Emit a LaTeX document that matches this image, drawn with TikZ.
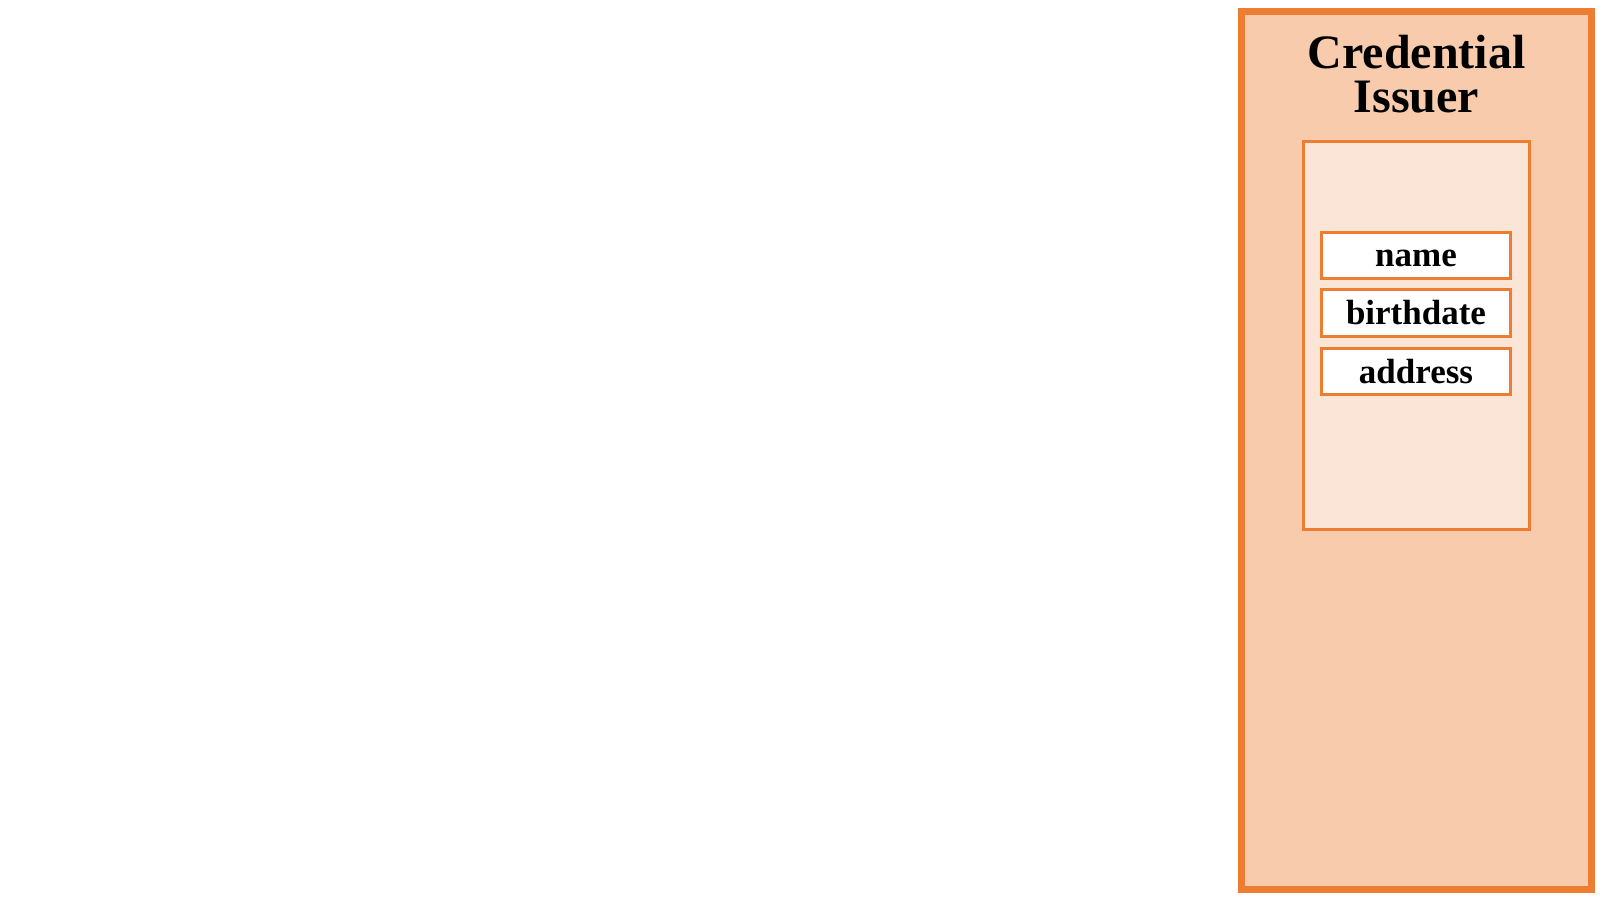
\documentclass[tikz,border=0pt]{standalone}
\usepackage{fontspec}
\setmainfont{Liberation Serif}
\definecolor{orangeline}{HTML}{ED7D31}
\definecolor{outerfill}{HTML}{F7CBAC}
\definecolor{innerfill}{HTML}{FBE5D6}
\begin{document}
\begin{tikzpicture}[x=1pt,y=-1pt,
  outerbox/.style={draw=orangeline,fill=outerfill,line width=7pt},
  innerbox/.style={draw=orangeline,fill=innerfill,line width=3pt},
  fieldbox/.style={draw=orangeline,fill=white,line width=3pt},
  fieldtext/.style={anchor=base,inner sep=0pt,font=\fontsize{35}{40}\selectfont\bfseries},
  titletext/.style={anchor=base,inner sep=0pt,align=center,font=\fontsize{48}{44}\selectfont\bfseries}]
\useasboundingbox (0,0) rectangle (1600,900);
\fill[white] (0,0) rectangle (1600,900);
\draw[outerbox] (1241.5,11.5) rectangle (1591.5,889.5);
\node[titletext] (title) at (1416.5,112) {Credential\\Issuer};
\draw[innerbox] (1303.5,141.5) rectangle (1529.5,529);
\draw[fieldbox] (1321.5,232) rectangle (1510.5,278);
\draw[fieldbox] (1321.5,289.5) rectangle (1510.5,336.5);
\draw[fieldbox] (1321.5,348) rectangle (1510.5,394);
\node[fieldtext] (name) at (1416,266) {name};
\node[fieldtext] (birthdate) at (1416,324) {birthdate};
\node[fieldtext] (address) at (1416,383) {address};
\end{tikzpicture}
\end{document}
